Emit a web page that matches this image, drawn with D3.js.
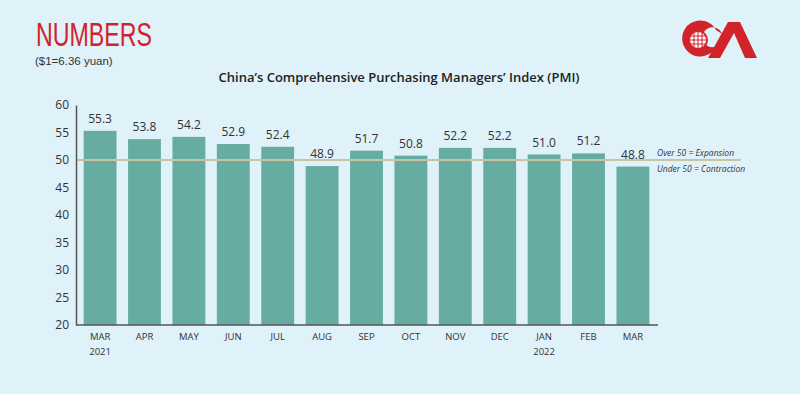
<!DOCTYPE html>
<html>
<head>
<meta charset="utf-8">
<script src="https://cdn.jsdelivr.net/npm/d3@7"></script>
<style>
  body { margin: 0; background: #dff1f9; }
  svg { display: block; font-family: "Open Sans", "Noto Sans", sans-serif; }
</style>
</head>
<body>
<div id="chart"></div>
<script>
// data
var months = ["MAR", "APR", "MAY", "JUN", "JUL", "AUG", "SEP", "OCT", "NOV", "DEC", "JAN", "FEB", "MAR"];
var years = ["2021", "", "", "", "", "", "", "", "", "", "2022", "", ""];
var pmi = [55.3, 53.8, 54.2, 52.9, 52.4, 48.9, 51.7, 50.8, 52.2, 52.2, 51.0, 51.2, 48.8];
var yTicks = [20, 25, 30, 35, 40, 45, 50, 55, 60];

var W = 800, H = 394;
var BAR = "#66aca1";

var svg = d3.select('#chart').append('svg')
    .attr('width', W).attr('height', H);

svg.append('rect').attr('width', W).attr('height', H).attr('fill', '#dff1f9');

// header
svg.append('text')
    .attr('x', 36).attr('y', 46)
    .attr('fill', '#d2232a')
    .attr('textLength', 116)
    .attr('lengthAdjust', 'spacingAndGlyphs')
    .style('font-family', '"Liberation Sans", Arial, sans-serif')
    .style('font-size', '33px')
    .text('NUMBERS');
svg.append('text')
    .attr('x', 35).attr('y', 65)
    .attr('fill', '#333')
    .style('font-family', '"Liberation Sans", Arial, sans-serif')
    .style('font-size', '11.5px')
    .text('($1=6.36 yuan)');

svg.append('text')
    .attr('x', 399).attr('y', 82)
    .attr('text-anchor', 'middle')
    .attr('fill', '#222')
    .style('font-size', '13px')
    .style('font-weight', 600)
    .text('China\u2019s Comprehensive Purchasing Managers\u2019 Index (PMI)');

// logo
var logo = svg.append('g').attr('class', 'logo');
logo.append('path')
    .attr('d', 'M716,30 A18,18 0 1 0 712,52 L720,44 A10,10 0 1 1 722,34 Z')
    .attr('fill', '#d2232a');
logo.append('path')
    .attr('d', 'M708,58 L728,22 L740,22 L757,58 L745,58 L734,33 L720,58 Z')
    .attr('fill', '#d2232a');
logo.append('circle').attr('cx', 698).attr('cy', 40).attr('r', 10).attr('fill', '#d2232a');
logo.append('circle').attr('cx', 698).attr('cy', 40).attr('r', 8.5).attr('fill', '#fff');
[-4, 0, 4].forEach(function(d){
    logo.append('line').attr('x1', 690).attr('x2', 706).attr('y1', 40 + d).attr('y2', 40 + d)
        .attr('stroke', '#d2232a').attr('stroke-width', 1);
    logo.append('line').attr('y1', 32).attr('y2', 48).attr('x1', 698 + d).attr('x2', 698 + d)
        .attr('stroke', '#d2232a').attr('stroke-width', 1);
});
logo.append('circle').attr('cx', 698).attr('cy', 40).attr('r', 8.5)
    .attr('fill', 'none').attr('stroke', '#d2232a').attr('stroke-width', 1);

// scales
var x = d3.scaleBand()
    .domain(d3.range(pmi.length))
    .range([77, 656])
    .paddingInner(0.26)
    .paddingOuter(0.15);
var y = d3.scaleLinear().domain([20, 60]).range([325, 105]);

var g = svg.append('g');

// bars
g.selectAll('.bar')
    .data(pmi)
    .enter()
    .append('rect')
    .attr('class', 'bar')
    .attr('x', function(d, i){ return x(i); })
    .attr('y', function(d){ return y(d); })
    .attr('width', x.bandwidth())
    .attr('height', function(d){ return y(20) - y(d); })
    .attr('fill', BAR);

// 50 reference line
g.append('line')
    .attr('x1', 77).attr('x2', 741)
    .attr('y1', y(50)).attr('y2', y(50))
    .attr('stroke', '#c9c4a4').attr('stroke-width', 2);
g.append('text')
    .attr('x', 657).attr('y', y(50) - 4)
    .attr('fill', '#333').style('font-size', '8.5px').style('font-style', 'italic')
    .text('Over 50 = Expansion');
g.append('text')
    .attr('x', 657).attr('y', y(50) + 12)
    .attr('fill', '#333').style('font-size', '8.5px').style('font-style', 'italic')
    .text('Under 50 = Contraction');

// value labels
g.selectAll('.val')
    .data(pmi)
    .enter()
    .append('text')
    .attr('class', 'val')
    .attr('x', function(d, i){ return x(i) + x.bandwidth() / 2; })
    .attr('y', function(d){ return y(d) - 8; })
    .attr('text-anchor', 'middle')
    .attr('fill', '#333')
    .style('font-size', '12px')
    .text(function(d){ return d.toFixed(1); });

// y axis
var yAxis = d3.axisLeft(y).tickValues(yTicks).tickSize(0).tickPadding(7);
var ya = svg.append('g').attr('transform', 'translate(76,0)').call(yAxis);
ya.select('.domain').attr('stroke', '#555').attr('stroke-width', 1.5);
ya.selectAll('text').attr('fill', '#333').style('font-size', '12px').style('font-family', '"Open Sans", sans-serif');

// x axis
var xAxis = d3.axisBottom(x).tickSize(0).tickPadding(8).tickFormat(function(i){ return months[i]; });
var xa = svg.append('g').attr('transform', 'translate(0,325)').call(xAxis);
xa.select('.domain').attr('stroke', '#555').attr('stroke-width', 1.5).attr('d', 'M76,0H658');
xa.selectAll('text').attr('fill', '#333').style('font-size', '9.5px').style('font-family', '"Open Sans", sans-serif');
xa.selectAll('.tick').append('text')
    .attr('y', 30)
    .attr('fill', '#333')
    .attr('text-anchor', 'middle')
    .style('font-size', '9.5px')
    .style('font-family', '"Open Sans", sans-serif')
    .text(function(i){ return years[i]; });
</script>
</body>
</html>
